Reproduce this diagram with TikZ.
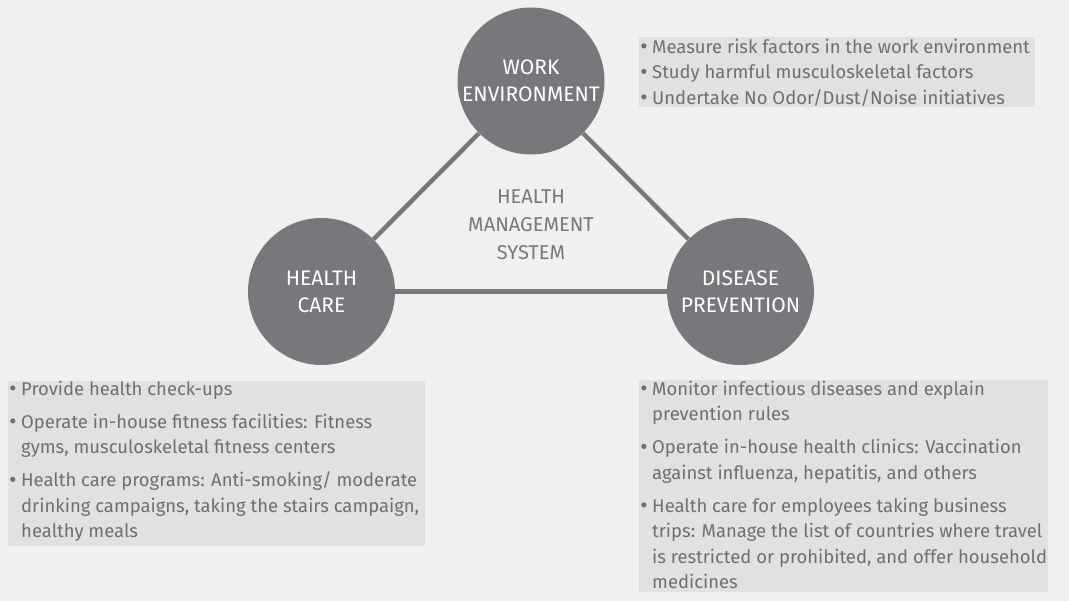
\documentclass[tikz,border=0pt]{standalone}
\usepackage{fontspec}
\setmainfont{Fira Sans}
\definecolor{bggray}{RGB}{239,241,240}
\definecolor{boxgray}{RGB}{224,226,225}
\definecolor{hubgray}{RGB}{118,120,123}
\definecolor{txtgray}{RGB}{109,111,113}
\newcommand{\bul}{\makebox[12pt][l]{\hspace*{1pt}\raisebox{4.6pt}{\tikz\fill[txtgray] (0,0) circle (2.6pt);}}}
\newcommand{\ind}{\hspace*{12pt}}
\tikzset{
  hub/.style={circle, fill=hubgray, minimum size=147pt, inner sep=0pt,
    text=white, align=center, font=\fontsize{21}{27}\selectfont},
  link/.style={draw=hubgray, line width=4.5pt},
  panel/.style={fill=boxgray, inner sep=0pt, anchor=north west},
  bullets/.style={anchor=north west, inner sep=0pt, align=left,
    text=txtgray, font=\fontsize{18.45}{25.5}\selectfont},
}

\begin{document}
\begin{tikzpicture}[x=1pt, y=-1pt]
  \fill[bggray] (0,0) rectangle (1069,601);
  \useasboundingbox (0,0) rectangle (1069,601);

  \node[hub] (work) at (531,81) {WORK\\ENVIRONMENT};
  \node[hub] (care) at (321.5,291.5) {HEALTH\\CARE};
  \node[hub] (prev) at (740.5,291.5) {DISEASE\\PREVENTION};
  \node[align=center, text=hubgray, font=\fontsize{20}{28}\selectfont] (hms) at (531,225)
    {HEALTH\\MANAGEMENT\\SYSTEM};

  \draw[link] (work) -- (care);
  \draw[link] (work) -- (prev);
  \draw[link] (care) -- (prev);

  \node[panel, minimum width=396pt, minimum height=70pt] (workpanel) at (639,37) {};
  \node[panel, minimum width=417pt, minimum height=165pt] (carepanel) at (8,381) {};
  \node[panel, minimum width=409pt, minimum height=212pt] (prevpanel) at (639,380) {};

  \node[bullets] (worklist) at (640,38.5) {%
    \bul Measure risk factors in the work environment\\
    \bul Study harmful musculoskeletal factors\\
    \bul Undertake No Odor/Dust/Noise initiatives};
  \node[bullets] (carelist) at (9,380.5) {%
    \bul Provide health check-ups\\[7.5pt]
    \bul Operate in-house fitness facilities: Fitness\\
    \ind gyms, musculoskeletal fitness centers\\[7.5pt]
    \bul Health care programs: Anti-smoking/ moderate\\
    \ind drinking campaigns, taking the stairs campaign,\\
    \ind healthy meals};
  \node[bullets] (prevlist) at (640,380.5) {%
    \bul Monitor infectious diseases and explain\\
    \ind prevention rules\\[7.5pt]
    \bul Operate in-house health clinics: Vaccination\\
    \ind against influenza, hepatitis, and others\\[7.5pt]
    \bul Health care for employees taking business\\
    \ind trips: Manage the list of countries where travel\\
    \ind is restricted or prohibited, and offer household\\
    \ind medicines};
\end{tikzpicture}
\end{document}
